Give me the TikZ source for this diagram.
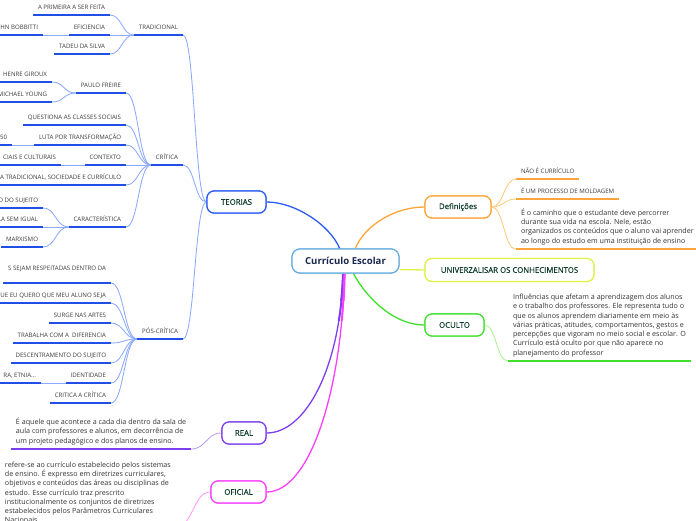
\documentclass[tikz,border=0pt]{standalone}
\usepackage{fontspec}
\setmainfont{Open Sans}
\newfontfamily\semib[FakeBold=0.6]{Open Sans}
\usetikzlibrary{calc}
\definecolor{ccen}{HTML}{69AEE0}
\definecolor{centext}{HTML}{1A2850}
\definecolor{boxtext}{HTML}{12402E}
\definecolor{cteo}{HTML}{2B5CF6}
\definecolor{tul}{HTML}{1F4FE6}
\definecolor{tlight}{HTML}{8CA9FF}
\definecolor{cdef}{HTML}{FFA53A}
\definecolor{dlight}{HTML}{FFC97E}
\definecolor{cuni}{HTML}{DDF24A}
\definecolor{cocu}{HTML}{3FE02C}
\definecolor{olight}{HTML}{A8F291}
\definecolor{creal}{HTML}{7B3FF2}
\definecolor{rlight}{HTML}{B9A0FF}
\definecolor{cofi}{HTML}{FF3DFF}
\definecolor{flight}{HTML}{FF99FF}
\definecolor{labgray}{HTML}{3A3A3A}
\definecolor{paragray}{HTML}{333333}
\newcommand{\labfont}{\fontsize{6.1}{7}\selectfont}
\newcommand{\parafont}{\fontsize{7.15}{9.3}\selectfont}
\tikzset{
  hc/.style={to path={let \p1=(\tikztostart), \p2=(\tikztotarget) in
      .. controls ({0.5*\x1+0.5*\x2},\y1) and ({0.5*\x1+0.5*\x2},\y2) .. (\tikztotarget)}},
  cnode/.style={draw=ccen, line width=1.2pt, fill=white, rounded corners=8pt,
      minimum width=107pt, minimum height=24pt, inner sep=0pt,
      font=\bfseries\fontsize{9.6}{11}\selectfont, text=centext},
  bnode/.style={line width=1.2pt, fill=white, rounded corners=7pt,
      minimum height=22pt, inner sep=0pt,
      font=\semib\fontsize{7.8}{9}\selectfont, text=boxtext},
  lab/.style={font=\labfont, text=labgray, inner xsep=5pt, inner ysep=0pt,
      text height=4.3pt, text depth=5.3pt, outer sep=0pt},
  llab/.style={lab, anchor=south east},
  rlab/.style={lab, anchor=south west},
  para/.style={font=\parafont, text=paragray, align=left, inner xsep=5pt,
      inner ysep=4pt, outer sep=0pt},
  tcon/.style={draw=tlight, line width=0.85pt},
  tline/.style={draw=tul, line width=1.6pt},
  main/.style={line width=1.3pt},
}
\begin{document}
\begin{tikzpicture}[x=1pt,y=-1pt]
\useasboundingbox (0,0) rectangle (696,520);
\clip (0,0) rectangle (696,520);

% ---------- left labels (TEORIAS branch) ----------
\node[llab] (trad) at (183,35) {TRADICIONAL};
\node[llab] (prim) at (110,15) {A PRIMEIRA A SER FEITA};
\node[llab] (efic) at (110,35) {EFICIENCIA};
\node[llab] (bob) at (43,35) {OHN BOBBITTI};
\node[llab] (tade) at (110,54) {TADEU DA SILVA};
\node[llab] (crit) at (183,165) {CRÍTICA};
\node[llab] (paulo) at (126,93) {PAULO FREIRE};
\node[llab] (henr) at (52,82) {HENRE GIROUX};
\node[llab] (mich) at (52,102) {MICHAEL YOUNG};
\node[llab] (ques) at (126,125) {QUESTIONA AS CLASSES SOCIAIS};
\node[llab] (luta) at (126,145) {LUTA POR TRANSFORMAÇÃO};
\node[llab] (cinq) at (12,145) {50};
\node[llab] (cont) at (126,165) {CONTEXTO};
\node[llab] (soci) at (61,165) {CIAIS E CULTURAIS};
\node[llab] (trsc) at (126,185) {A TRADICIONAL, SOCIEDADE E CURRÍCULO};
\node[llab] (cara) at (126,227) {CARACTERÍSTICA};
\node[llab] (suje) at (43,208) {O DO SUJEITO};
\node[llab] (igua) at (43,227) {LA SEM IGUAL};
\node[llab] (marx) at (43,247) {MARXISMO};
\node[llab] (pos) at (183,339) {PÓS-CRÍTICA};
\node[llab, text depth=12.8pt] (resp) at (111,283) {S SEJAM RESPEITADAS DENTRO DA};
\node[llab] (quer) at (111,303) {QUE EU QUERO QUE MEU ALUNO SEJA};
\node[llab] (surg) at (111,323) {SURGE NAS ARTES};
\node[llab] (trab) at (111,343) {TRABALHA COM A~ DIFERENCIA};
\node[llab] (desc) at (111,363) {DESCENTRAMENTO DO SUJEITO};
\node[llab] (iden) at (111,383) {IDENTIDADE};
\node[llab] (etni) at (41,383) {RA, ETNIA...};
\node[llab] (crcr) at (111,403) {CRITICA A CRÍTICA};

% ---------- right labels / paragraphs ----------
\node[rlab] (naoe) at (516,179) {NÃO É CURRÍCULO};
\node[rlab] (proc) at (516,199) {É UM PROCESSO DE MOLDAGEM};
\node[para, anchor=south west] (defp) at (516,249) {É o caminho que o estudante deve percorrer\\durante sua vida na escola. Nele, estão\\organizados os conteúdos que o aluno vai aprender\\ao longo do estudo em uma instituição de ensino};
\node[para, anchor=south west] (ocup) at (508,361) {Influências que afetam a aprendizagem dos alunos\\e o trabalho dos professores. Ele representa tudo o\\que os alunos aprendem diariamente em meio às\\várias práticas, atitudes, comportamentos, gestos e\\percepções que vigoram no meio social e escolar. O\\Currículo está oculto por que não aparece no\\planejamento do professor};
\node[para, anchor=south west] (realp) at (11,449) {É aquele que acontece a cada dia dentro da sala de\\aula com professores e alunos, em decorrência de\\um projeto pedagógico e dos planos de ensino.};
\node[para, anchor=south west] (ofip) at (0,527) {refere-se ao currículo estabelecido pelos sistemas\\de ensino. É expresso em diretrizes curriculares,\\objetivos e conteúdos das áreas ou disciplinas de\\estudo. Esse currículo traz prescrito\\institucionalmente os conjuntos de diretrizes\\estabelecidos pelos Parâmetros Curriculares\\Nacionais.};

% ---------- main nodes (for names) ----------
\node[cnode] (c) at (345.5,261) {Currículo Escolar};
\node[bnode, draw=cteo, minimum width=59pt] (teo) at (236.5,202) {TEORIAS};
\node[bnode, draw=cdef, minimum width=66pt] (def) at (458,207) {Definições};
\node[bnode, draw=cuni, minimum width=169pt, minimum height=23pt] (uni) at (509.5,270) {UNIVERZALISAR OS CONHECIMENTOS};
\node[bnode, draw=cocu, minimum width=59pt] (ocu) at (454.5,325) {OCULTO};
\node[bnode, draw=creal, minimum width=44pt] (real) at (244,433) {REAL};
\node[bnode, draw=cofi, minimum width=55pt] (ofi) at (238.5,492) {OFICIAL};

% TEORIAS subtree connectors
\foreach \a/\b in {teo.west/trad, teo.west/crit, teo.west/pos,
    trad.south west/prim, trad.south west/efic, trad.south west/tade,
    efic.south west/bob,
    crit.south west/paulo, crit.south west/ques, crit.south west/luta,
    crit.south west/cont, crit.south west/trsc, crit.south west/cara,
    paulo.south west/henr, paulo.south west/mich,
    luta.south west/cinq, cont.south west/soci,
    cara.south west/suje, cara.south west/igua, cara.south west/marx,
    pos.south west/resp, pos.south west/quer, pos.south west/surg,
    pos.south west/trab, pos.south west/desc, pos.south west/iden,
    pos.south west/crcr, iden.south west/etni}
  \draw[tcon] (\a) to[hc] (\b.south east);
\foreach \n in {trad,prim,efic,bob,tade,crit,paulo,henr,mich,ques,luta,cinq,
    cont,soci,trsc,cara,suje,igua,marx,pos,resp,quer,surg,trab,desc,iden,etni,crcr}
  \draw[tline] (\n.south west) -- (\n.south east);

% Definições
\foreach \b in {naoe,proc,defp}
  \draw[draw=dlight, line width=0.85pt] (def.east) to[hc] (\b.south west);
\foreach \b in {naoe,proc,defp}
  \draw[draw=cdef, line width=1.6pt] (\b.south west) -- (\b.south east);
% OCULTO
\draw[draw=olight, line width=0.85pt] (ocu.east) to[hc] (ocup.south west);
\draw[draw=cocu, line width=1.6pt] (ocup.south west) -- (ocup.south east);
% REAL
\draw[draw=rlight, line width=0.85pt] (real.west) to[hc] (realp.south east);
\draw[draw=creal, line width=1.6pt] (realp.south west) -- (realp.south east);
% OFICIAL
\draw[draw=flight, line width=0.85pt] (ofi.west) to[hc] (ofip.south east);
\draw[draw=cofi, line width=1.6pt] (ofip.south west) -- (ofip.south east);

% main branches
\draw[main, draw=cteo] (c.115) .. controls (330,225) and (295,202) .. (teo.east);
\draw[main, draw=cdef] (c.52) .. controls (365,225) and (395,207) .. (def.west);
\draw[main, draw=cuni] (c.-9) to[hc] (uni.west);
\draw[main, draw=cocu] (c.-58) .. controls (368,300) and (395,325) .. (ocu.west);
\draw[main, draw=creal] (c.-100) .. controls (340,370) and (305,433) .. (real.east);
\draw[main, draw=cofi] (c.-95) .. controls (342,390) and (310,492) .. (ofi.east);
% thicker roots of the two long branches near the centre
\begin{scope}
  \clip (320,270) rectangle (370,300);
  \draw[line width=2.5pt, draw=creal] (c.-100) .. controls (340,370) and (305,433) .. (real.east);
  \draw[line width=2.5pt, draw=cofi] (c.-95) .. controls (342,390) and (310,492) .. (ofi.east);
\end{scope}
\begin{scope}
  \clip (320,270) rectangle (370,320);
  \draw[line width=1.9pt, draw=creal] (c.-100) .. controls (340,370) and (305,433) .. (real.east);
  \draw[line width=1.9pt, draw=cofi] (c.-95) .. controls (342,390) and (310,492) .. (ofi.east);
\end{scope}

% redraw main nodes on top of the connectors
\node[cnode] at (c) {Currículo Escolar};
\node[bnode, draw=cteo, minimum width=59pt] at (teo) {TEORIAS};
\node[bnode, draw=cdef, minimum width=66pt] at (def) {Definições};
\node[bnode, draw=cuni, minimum width=169pt, minimum height=23pt] at (uni) {UNIVERZALISAR OS CONHECIMENTOS};
\node[bnode, draw=cocu, minimum width=59pt] at (ocu) {OCULTO};
\node[bnode, draw=creal, minimum width=44pt] at (real) {REAL};
\node[bnode, draw=cofi, minimum width=55pt] at (ofi) {OFICIAL};
\end{tikzpicture}
\end{document}
